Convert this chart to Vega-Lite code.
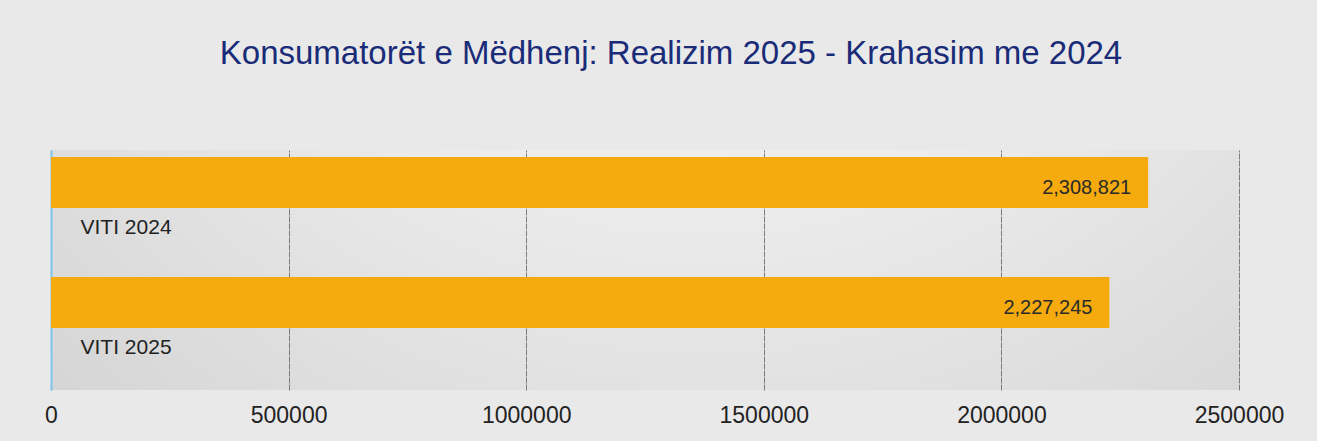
{
  "$schema": "https://vega.github.io/schema/vega-lite/v6.json",
  "width": 1188,
  "height": 240,
  "autosize": {"type": "none"},
  "padding": {"left": 51, "top": 150, "right": 78, "bottom": 51},
  "background": "#e9e9e9",
  "title": {
    "text": "Konsumatorët e Mëdhenj: Realizim 2025 - Krahasim me 2024",
    "font": "Liberation Sans",
    "fontSize": 33,
    "fontWeight": "normal",
    "color": "#1a2c78",
    "anchor": "middle",
    "baseline": "alphabetic",
    "offset": 53,
    "dx": 26
  },
  "config": {
    "view": {
      "stroke": null,
      "fill": {
        "gradient": "radial",
        "x1": 0.55, "y1": 0.0, "r1": 0,
        "x2": 0.55, "y2": 0.0, "r2": 0.8,
        "stops": [
          {"offset": 0, "color": "#ffffff"},
          {"offset": 0.4, "color": "#f3f3f3"},
          {"offset": 1, "color": "#d6d6d6"}
        ]
      }
    }
  },
  "data": {
    "values": [
      {"viti": "VITI 2024", "vlera": 2308821},
      {"viti": "VITI 2025", "vlera": 2227245}
    ]
  },
  "encoding": {
    "y": {
      "field": "viti",
      "type": "nominal",
      "sort": ["VITI 2024", "VITI 2025"],
      "scale": {"paddingInner": 0, "paddingOuter": 0},
      "axis": {
        "title": null,
        "ticks": false,
        "tickSize": 0,
        "labelAlign": "left",
        "labelPadding": -29,
        "labelOffset": 18,
        "labelFont": "Liberation Sans",
        "labelFontSize": 21,
        "labelColor": "#222222",
        "domain": true,
        "domainColor": "#7fc4e8",
        "domainWidth": 2,
        "grid": false
      }
    },
    "x": {
      "field": "vlera",
      "type": "quantitative",
      "scale": {"domain": [0, 2500000], "nice": false},
      "axis": {
        "title": null,
        "values": [0, 500000, 1000000, 1500000, 2000000, 2500000],
        "format": "d",
        "ticks": false,
        "tickSize": 0,
        "domain": false,
        "grid": true,
        "gridColor": {"condition": {"test": "datum.value === 0", "value": "#7fc4e8"}, "value": "#7a7a7a"},
        "gridWidth": 1,
        "gridDash": [6, 1],
        "labelPadding": 14,
        "labelFont": "Liberation Sans",
        "labelFontSize": 23,
        "labelColor": "#222222",
        "labelFlush": false
      }
    }
  },
  "layer": [
    {
      "mark": {"type": "bar", "color": "#f5aa0d", "height": 51, "yOffset": -27.5}
    },
    {
      "mark": {
        "type": "text",
        "align": "right",
        "baseline": "middle",
        "dx": -17,
        "yOffset": -22,
        "font": "Liberation Sans",
        "fontSize": 20,
        "color": "#2a2a2a"
      },
      "encoding": {
        "text": {"field": "vlera", "type": "quantitative", "format": ","}
      }
    }
  ]
}
